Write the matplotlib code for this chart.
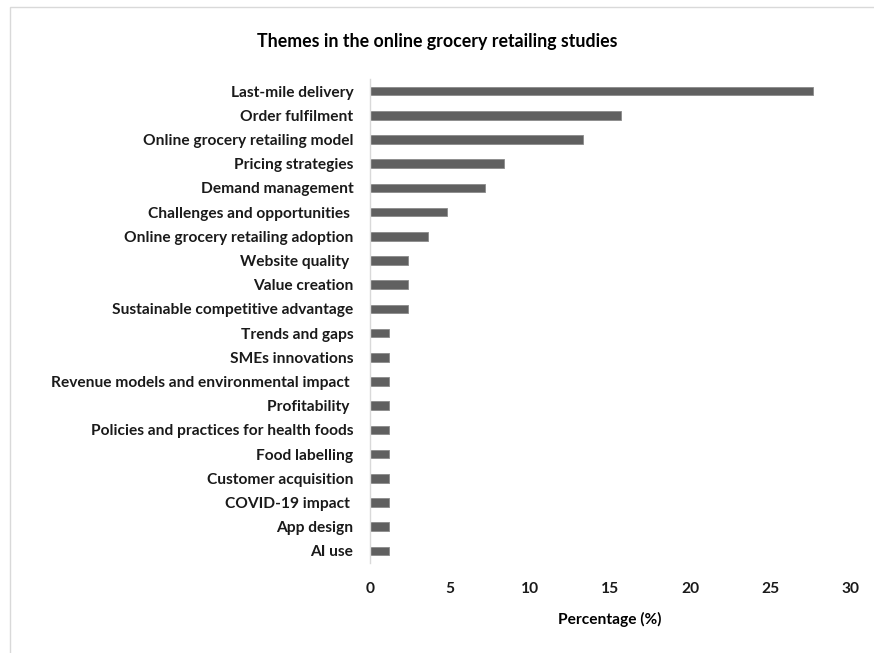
import matplotlib.pyplot as plt
from matplotlib.patches import Rectangle

# theme counts out of the 83 reviewed studies, shown as percentages
themes = ["Last-mile delivery", "Order fulfilment", "Online grocery retailing model",
          "Pricing strategies", "Demand management", "Challenges and opportunities ",
          "Online grocery retailing adoption", "Website quality ", "Value creation",
          "Sustainable competitive advantage", "Trends and gaps", "SMEs innovations",
          "Revenue models and environmental impact ", "Profitability ",
          "Policies and practices for health foods", "Food labelling",
          "Customer acquisition", "COVID-19 impact ", "App design", "AI use"]
percent = [27.7, 15.7, 13.3, 8.4, 7.2, 4.8, 3.6, 2.4, 2.4, 2.4,
           1.2, 1.2, 1.2, 1.2, 1.2, 1.2, 1.2, 1.2, 1.2, 1.2]
xticks = [0, 5, 10, 15, 20, 25, 30]

plt.rcParams['font.family'] = ['Lato', 'DejaVu Sans']
plt.rcParams['font.weight'] = 'bold'

fig = plt.figure(figsize=(8.74, 6.53), dpi=100)
ax = fig.add_axes([370/874, 1-563/653, 480/874, 484/653])

y = list(range(len(themes)))
ax.barh(y, percent, height=0.35, color='#606060', edgecolor='#8a8a8a', linewidth=0.6)
ax.set_ylim(len(themes)-0.5, -0.5)
ax.set_xlim(0, 30)
ax.set_yticks(y, labels=themes, fontsize=11.2, color='#1a1a1a')
ax.set_xticks(xticks, labels=[str(t) for t in xticks], fontsize=11.2, color='#1a1a1a')
ax.tick_params(length=0)
ax.tick_params(axis='y', pad=12)
ax.tick_params(axis='x', pad=14)
for s in ['top', 'right', 'bottom']:
    ax.spines[s].set_visible(False)
ax.spines['left'].set_color('#d9d9d9')
ax.spines['left'].set_linewidth(1)
ax.set_xlabel("Percentage (%)", fontsize=11.2, fontweight='bold', labelpad=11)

fig.text(0.5, 1-42/653, "Themes in the online grocery retailing studies",
         ha='center', va='center', fontsize=12.8, fontweight='bold')

# light frame round the chart area
fig.patches.append(Rectangle((10/874, -0.1), 1, 1.1-7/653, transform=fig.transFigure,
                             fill=False, edgecolor='#d9d9d9', linewidth=1))

fig.savefig('out.png', dpi=100)
